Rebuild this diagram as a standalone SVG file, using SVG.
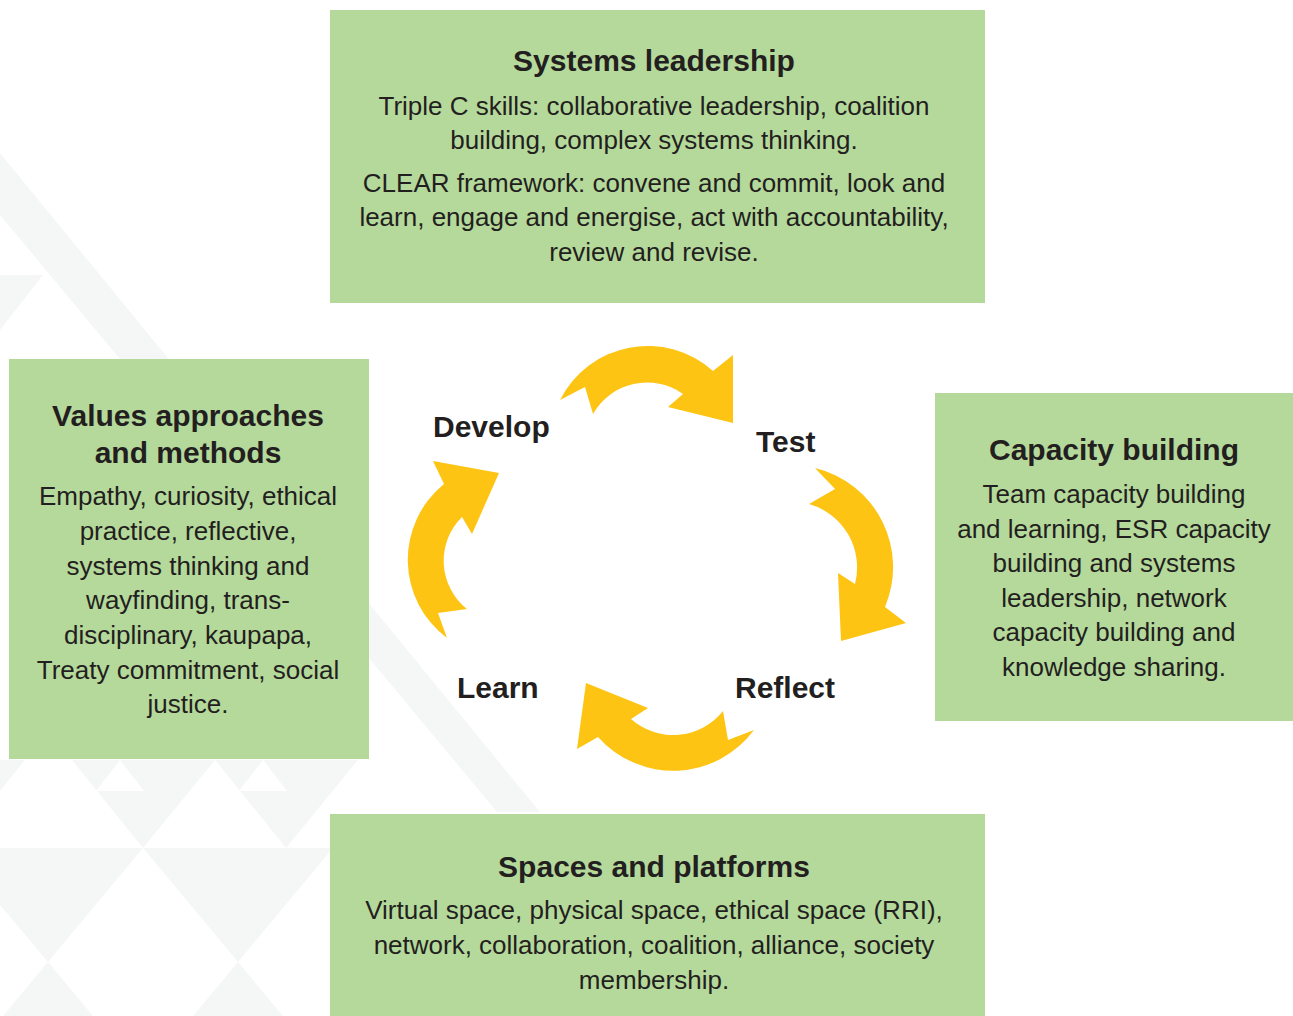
<svg xmlns="http://www.w3.org/2000/svg" width="1293" height="1016" viewBox="0 0 1293 1016">
<style>
.box{fill:#b5d99b}
.bg{fill:#f5f7f6}
.arrow{fill:#fdc413}
.t{font-family:"Liberation Sans",Arial,sans-serif;font-weight:bold;font-size:30px;fill:#231f20;text-anchor:middle}
.b{font-family:"Liberation Sans",Arial,sans-serif;font-size:26px;fill:#231f20;text-anchor:middle}
.lbl{font-family:"Liberation Sans",Arial,sans-serif;font-weight:bold;font-size:30px;fill:#231f20}
</style>
<rect width="1293" height="1016" fill="#ffffff"/>
<g id="background">
<polygon class="bg" points="0,153 540,812 497,812 0,215"/>
<polygon class="bg" points="0,275 43,275 0,330"/>
<polygon class="bg" points="0,760 25,760 0,791"/>
<polygon class="bg" points="72,760 215,760 143,848"/>
<polygon class="bg" points="215,760 358,760 286,848"/>
<polygon class="bg" points="-48,848 143,848 48,962"/>
<polygon class="bg" points="143,848 333,848 238,962"/>
<polygon class="bg" points="48,962 3,1016 93,1016"/>
<polygon class="bg" points="238,962 193,1016 283,1016"/>
<polygon fill="#ffffff" points="96,791 120,760 144,791"/>
<polygon fill="#ffffff" points="239,791 263,760 287,791"/>
<polygon fill="#ffffff" points="143,848 167,819 191,848 215,819 239,848"/>
<polygon fill="#ffffff" points="215,848 239,819 263,848"/>
</g>
<g id="node-systems-leadership">
<rect class="box" x="330" y="10" width="655" height="293"/>
<text class="t" x="654" y="71">Systems leadership</text>
<text class="b" x="654" y="115">Triple C skills: collaborative leadership, coalition</text>
<text class="b" x="654" y="149">building, complex systems thinking.</text>
<text class="b" x="654" y="192">CLEAR framework: convene and commit, look and</text>
<text class="b" x="654" y="226">learn, engage and energise, act with accountability,</text>
<text class="b" x="654" y="261">review and revise.</text>
</g>
<g id="node-values">
<rect class="box" x="9" y="359" width="360" height="400"/>
<text class="t" x="188" y="426">Values approaches</text>
<text class="t" x="188" y="463">and methods</text>
<text class="b" x="188" y="505">Empathy, curiosity, ethical</text>
<text class="b" x="188" y="540">practice, reflective,</text>
<text class="b" x="188" y="575">systems thinking and</text>
<text class="b" x="188" y="609">wayfinding, trans-</text>
<text class="b" x="188" y="644">disciplinary, kaupapa,</text>
<text class="b" x="188" y="679">Treaty commitment, social</text>
<text class="b" x="188" y="713">justice.</text>
</g>
<g id="node-capacity">
<rect class="box" x="935" y="393" width="358" height="328"/>
<text class="t" x="1114" y="460">Capacity building</text>
<text class="b" x="1114" y="503">Team capacity building</text>
<text class="b" x="1114" y="538">and learning, ESR capacity</text>
<text class="b" x="1114" y="572">building and systems</text>
<text class="b" x="1114" y="607">leadership, network</text>
<text class="b" x="1114" y="641">capacity building and</text>
<text class="b" x="1114" y="676">knowledge sharing.</text>
</g>
<g id="node-spaces">
<rect class="box" x="330" y="814" width="655" height="202"/>
<text class="t" x="654" y="877">Spaces and platforms</text>
<text class="b" x="654" y="919">Virtual space, physical space, ethical space (RRI),</text>
<text class="b" x="654" y="954">network, collaboration, coalition, alliance, society</text>
<text class="b" x="654" y="989">membership.</text>
</g>
<g id="connectors">
<path class="arrow" d="M560,400 A98,98 0 0 1 713,371 L733,355 L733,423 L668,407 L683,394 A62,62 0 0 0 593,414 L585,387 Z"/>
<path class="arrow" d="M815,468 A102,102 0 0 1 885,607 L906,623 L841,641 L838,573 L855,584 A66,66 0 0 0 809,504 L835,489 Z"/>
<path class="arrow" d="M754,730 A100.5,100.5 0 0 1 598,737 L577,749 L586,683 L648,708 L631,719 A63.5,63.5 0 0 0 723,711 L728,740 Z"/>
<path class="arrow" d="M447,638 A97.5,97.5 0 0 1 444,484 L433,461 L499,473 L472,534 L462,517 A61.5,61.5 0 0 0 467,609 L438,613 Z"/>
</g>
<g id="node-develop"><text class="lbl" x="433" y="437">Develop</text></g>
<g id="node-test"><text class="lbl" x="756" y="452">Test</text></g>
<g id="node-reflect"><text class="lbl" x="735" y="698">Reflect</text></g>
<g id="node-learn"><text class="lbl" x="457" y="698">Learn</text></g>
</svg>
